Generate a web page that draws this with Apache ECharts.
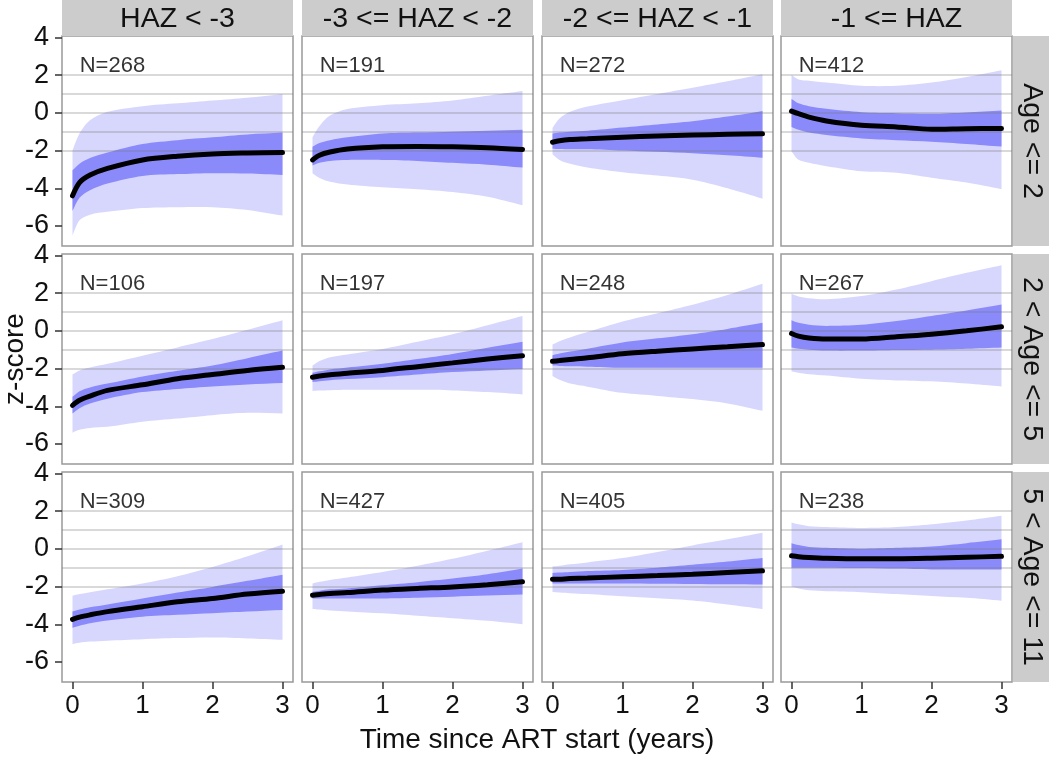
<!DOCTYPE html>
<html><head><meta charset="utf-8">
<script src="https://cdn.jsdelivr.net/npm/echarts@6/dist/echarts.min.js"></script>
<style>html,body{margin:0;padding:0;background:#fff}#c{width:1050px;height:757px}</style>
</head><body><div id="c"></div>
<script>
// ---------------- DATA ----------------
const TIME = [0, 0.1, 0.25, 0.5, 1, 1.5, 2, 2.5, 3];
const COL_LABELS = ['HAZ < -3', '-3 <= HAZ < -2', '-2 <= HAZ < -1', '-1 <= HAZ'];
const ROW_LABELS = ['Age <= 2', '2 < Age <= 5', '5 < Age <= 11'];
const N_LABELS = [
  ['N=268', 'N=191', 'N=272', 'N=412'],
  ['N=106', 'N=197', 'N=248', 'N=267'],
  ['N=309', 'N=427', 'N=405', 'N=238']
];
const Y_TICKS = [-6, -4, -2, 0, 2, 4];
const X_TICKS = [0, 1, 2, 3];
const REF_LINES = [2, 1, 0, -1, -2];
const X_TITLE = 'Time since ART start (years)';
const Y_TITLE = 'z-score';

// Row 1: Age <= 2 (columns HAZ<-3, -3..-2, -2..-1, >=-1)
const MEDIAN_AGE2 = [
  [-4.4, -3.7, -3.3, -2.95, -2.5, -2.3, -2.18, -2.13, -2.1],
  [-2.5, -2.25, -2.08, -1.92, -1.8, -1.78, -1.8, -1.85, -1.95],
  [-1.56, -1.48, -1.42, -1.38, -1.29, -1.23, -1.18, -1.14, -1.11],
  [0.09, -0.05, -0.23, -0.43, -0.66, -0.75, -0.87, -0.84, -0.83]
];
const INNER_LO_AGE2 = [
  [-5.2, -4.5, -4.1, -3.75, -3.35, -3.25, -3.2, -3.22, -3.3],
  [-2.8, -2.65, -2.55, -2.5, -2.5, -2.55, -2.65, -2.75, -2.9],
  [-1.9, -1.92, -1.93, -1.93, -2.0, -2.07, -2.15, -2.25, -2.38],
  [-0.75, -0.9, -1.05, -1.18, -1.36, -1.45, -1.53, -1.65, -1.79]
];
const INNER_HI_AGE2 = [
  [-3.05, -2.7, -2.4, -2.1, -1.65, -1.45, -1.3, -1.15, -1.05],
  [-1.8, -1.6, -1.45, -1.3, -1.1, -1.05, -1.0, -0.95, -0.9],
  [-1.1, -1.05, -1.0, -0.95, -0.78, -0.62, -0.45, -0.2, 0.1],
  [0.73, 0.5, 0.35, 0.21, 0.03, -0.02, -0.05, 0.02, 0.12]
];
const OUTER_LO_AGE2 = [
  [-6.5, -5.7, -5.4, -5.25, -5.05, -5.0, -5.0, -5.15, -5.45],
  [-3.2, -3.45, -3.65, -3.8, -3.95, -4.05, -4.2, -4.45, -4.9],
  [-2.2, -2.5, -2.7, -2.9, -3.15, -3.33, -3.55, -4.0, -4.55],
  [-2.05, -2.49, -2.65, -2.83, -3.1, -3.18, -3.44, -3.7, -4.05]
];
const OUTER_HI_AGE2 = [
  [-2.0, -1.1, -0.4, 0.05, 0.35, 0.5, 0.65, 0.8, 1.0],
  [-1.3, -0.7, -0.15, 0.2, 0.4, 0.5, 0.65, 0.9, 1.15],
  [-0.8, -0.3, 0.05, 0.33, 0.67, 1.0, 1.33, 1.67, 2.04],
  [2.0, 1.77, 1.7, 1.6, 1.43, 1.43, 1.6, 1.9, 2.26]
];

// Row 2: 2 < Age <= 5
const MEDIAN_AGE5 = [
  [-3.95, -3.68, -3.46, -3.16, -2.86, -2.54, -2.32, -2.1, -1.93],
  [-2.46, -2.4, -2.33, -2.25, -2.1, -1.9, -1.7, -1.5, -1.32],
  [-1.62, -1.58, -1.52, -1.43, -1.22, -1.08, -0.96, -0.85, -0.73],
  [-0.14, -0.28, -0.38, -0.44, -0.44, -0.32, -0.18, 0.0, 0.21]
];
const INNER_LO_AGE5 = [
  [-4.39, -4.1, -3.85, -3.6, -3.25, -3.08, -2.95, -2.85, -2.77],
  [-2.72, -2.68, -2.62, -2.56, -2.46, -2.32, -2.19, -2.1, -2.02],
  [-1.84, -1.86, -1.88, -1.9, -1.96, -1.96, -1.96, -1.96, -1.96],
  [-0.88, -0.95, -1.0, -1.05, -1.05, -1.02, -1.0, -0.95, -0.88]
];
const INNER_HI_AGE5 = [
  [-3.5, -3.2, -3.0, -2.8, -2.42, -2.12, -1.84, -1.45, -1.05],
  [-2.23, -2.15, -2.05, -1.95, -1.75, -1.5, -1.23, -0.9, -0.58],
  [-1.29, -1.2, -1.1, -0.95, -0.62, -0.4, -0.18, 0.1, 0.42],
  [0.56, 0.42, 0.32, 0.26, 0.32, 0.52, 0.79, 1.08, 1.4]
];
const OUTER_LO_AGE5 = [
  [-5.4, -5.25, -5.15, -5.09, -4.82, -4.65, -4.47, -4.35, -4.39],
  [-3.19, -3.17, -3.15, -3.13, -3.12, -3.13, -3.16, -3.25, -3.37],
  [-2.4, -2.6, -2.8, -2.96, -3.29, -3.45, -3.62, -3.85, -4.24],
  [-2.14, -2.22, -2.3, -2.37, -2.54, -2.63, -2.68, -2.8, -2.95]
];
const OUTER_HI_AGE5 = [
  [-2.32, -2.1, -1.95, -1.75, -1.32, -0.88, -0.44, 0.05, 0.56],
  [-1.84, -1.6, -1.4, -1.25, -0.96, -0.58, -0.18, 0.3, 0.79],
  [-0.73, -0.55, -0.35, -0.07, 0.49, 0.93, 1.38, 1.9, 2.49],
  [1.96, 1.82, 1.72, 1.67, 1.84, 2.19, 2.63, 3.07, 3.47]
];

// Row 3: 5 < Age <= 11
const MEDIAN_AGE11 = [
  [-3.74, -3.62, -3.5, -3.33, -3.07, -2.81, -2.63, -2.4, -2.25],
  [-2.46, -2.42, -2.37, -2.32, -2.19, -2.1, -2.02, -1.9, -1.75],
  [-1.62, -1.61, -1.58, -1.55, -1.48, -1.42, -1.35, -1.26, -1.17],
  [-0.37, -0.42, -0.46, -0.5, -0.53, -0.53, -0.5, -0.45, -0.4]
];
const INNER_LO_AGE11 = [
  [-4.18, -4.08, -3.95, -3.8, -3.6, -3.5, -3.42, -3.33, -3.25],
  [-2.63, -2.63, -2.63, -2.63, -2.63, -2.59, -2.54, -2.48, -2.42],
  [-1.84, -1.84, -1.84, -1.84, -1.84, -1.85, -1.86, -1.88, -1.89],
  [-1.0, -1.0, -1.0, -1.0, -1.02, -1.05, -1.1, -1.1, -1.1]
];
const INNER_HI_AGE11 = [
  [-3.33, -3.22, -3.1, -2.95, -2.63, -2.32, -2.02, -1.7, -1.37],
  [-2.28, -2.22, -2.15, -2.1, -1.93, -1.77, -1.58, -1.35, -1.05],
  [-1.28, -1.26, -1.23, -1.18, -1.12, -1.0, -0.85, -0.68, -0.49],
  [0.3, 0.2, 0.1, 0.05, 0.0, 0.05, 0.12, 0.3, 0.5]
];
const OUTER_LO_AGE11 = [
  [-5.05, -4.98, -4.92, -4.87, -4.79, -4.73, -4.7, -4.75, -4.82],
  [-3.19, -3.22, -3.27, -3.32, -3.42, -3.55, -3.68, -3.82, -4.0],
  [-2.29, -2.31, -2.35, -2.4, -2.52, -2.62, -2.74, -2.95, -3.19],
  [-2.0, -2.1, -2.2, -2.25, -2.3, -2.4, -2.5, -2.6, -2.75]
];
const OUTER_HI_AGE11 = [
  [-2.49, -2.4, -2.3, -2.15, -1.84, -1.45, -0.96, -0.4, 0.23],
  [-1.84, -1.75, -1.65, -1.52, -1.23, -0.9, -0.53, -0.1, 0.35],
  [-0.94, -0.9, -0.82, -0.72, -0.49, -0.17, 0.18, 0.5, 0.85],
  [1.4, 1.3, 1.2, 1.15, 1.1, 1.15, 1.3, 1.5, 1.75]
];

// ---------------- LAYOUT / STYLE ----------------
const MEDIAN = [MEDIAN_AGE2, MEDIAN_AGE5, MEDIAN_AGE11];
const INNER_LO = [INNER_LO_AGE2, INNER_LO_AGE5, INNER_LO_AGE11];
const INNER_HI = [INNER_HI_AGE2, INNER_HI_AGE5, INNER_HI_AGE11];
const OUTER_LO = [OUTER_LO_AGE2, OUTER_LO_AGE5, OUTER_LO_AGE11];
const OUTER_HI = [OUTER_HI_AGE2, OUTER_HI_AGE5, OUTER_HI_AGE11];

const FONT = 'Liberation Sans, Arial, sans-serif';
const COL_LEFT = [62, 302, 542, 781];
const PANEL_W = 231;
const ROW_TOP = [36, 254, 472];
const PANEL_H = 210;
const STRIP_H = 36;
const STRIP_W = 36;
const LIGHT = '#d7d7fd';
const DARK = '#8a8afb';
const STRIP_FILL = '#cccccc';
const X_MIN = -0.15, X_MAX = 3.15, Y_MIN = -7.06, Y_MAX = 4.07;

const grids = [], xAxes = [], yAxes = [], series = [], graphics = [];

function bandSeries(p, lo, hi, color, z) {
  return {
    type: 'custom', coordinateSystem: 'cartesian2d', xAxisIndex: p, yAxisIndex: p,
    silent: true, animation: false, z: z,
    data: TIME.map((t, i) => [t, lo[i], hi[i]]),
    encode: { x: 0, y: [1, 2] },
    renderItem: function (params, api) {
      if (params.dataIndex !== 0) return;
      const up = TIME.map((t, i) => api.coord([t, hi[i]]));
      const dn = TIME.map((t, i) => api.coord([t, lo[i]])).reverse();
      const pts = [up[0]].concat(up, [up[up.length - 1], dn[0]], dn, [dn[dn.length - 1]]);
      return { type: 'polygon', shape: { points: pts, smooth: 0.3 }, style: { fill: color, stroke: null } };
    }
  };
}

for (let r = 0; r < 3; r++) {
  for (let c = 0; c < 4; c++) {
    const p = r * 4 + c;
    grids.push({
      left: COL_LEFT[c], top: ROW_TOP[r], width: PANEL_W, height: PANEL_H,
      show: true, borderColor: '#999', borderWidth: 1.5, backgroundColor: '#fff'
    });
    xAxes.push({
      gridIndex: p, type: 'value', min: X_MIN, max: X_MAX, position: 'bottom',
      splitLine: { show: false }, axisLine: { show: false, onZero: false },
      axisTick: { show: r === 2, customValues: X_TICKS, length: 7, lineStyle: { color: '#333', width: 1.5 } },
      axisLabel: { show: r === 2, customValues: X_TICKS, fontSize: 26, color: '#111', margin: 11, fontFamily: FONT }
    });
    yAxes.push({
      gridIndex: p, type: 'value', min: Y_MIN, max: Y_MAX, position: 'left',
      splitLine: { show: false }, axisLine: { show: false, onZero: false },
      axisTick: { show: c === 0, customValues: Y_TICKS, length: 7, lineStyle: { color: '#333', width: 1.5 } },
      axisLabel: { show: c === 0, customValues: Y_TICKS, fontSize: 27, color: '#111', margin: 13, fontFamily: FONT }
    });
    const med = MEDIAN[r][c];
    series.push(bandSeries(p, OUTER_LO[r][c], OUTER_HI[r][c], LIGHT, 1));
    series.push(bandSeries(p, INNER_LO[r][c], INNER_HI[r][c], DARK, 2));
    // carrier of horizontal reference lines (invisible line)
    series.push({
      type: 'line', xAxisIndex: p, yAxisIndex: p, symbol: 'none', silent: true, animation: false, z: 3,
      data: TIME.map((t, i) => [t, med[i]]), lineStyle: { opacity: 0 },
      markLine: {
        silent: true, symbol: 'none', animation: false,
        label: { show: false },
        lineStyle: { color: 'rgba(120,120,120,0.38)', width: 1.5, type: 'solid' },
        data: REF_LINES.map(v => ({ yAxis: v }))
      }
    });
    series.push({
      type: 'line', xAxisIndex: p, yAxisIndex: p, symbol: 'none', smooth: 0.3, silent: true, animation: false,
      z: 10, data: TIME.map((t, i) => [t, med[i]]),
      lineStyle: { color: '#000', width: 5, cap: 'round' }
    });
    series.push({
      type: 'scatter', xAxisIndex: p, yAxisIndex: p, silent: true, animation: false, z: 11,
      symbolSize: 1, itemStyle: { color: 'rgba(0,0,0,0)' },
      data: [[0.57, 2.5]],
      label: { show: true, position: 'inside', formatter: N_LABELS[r][c], fontSize: 22, color: '#000', fontFamily: FONT }
    });
  }
}

// column strips
for (let c = 0; c < 4; c++) {
  graphics.push({ type: 'rect', shape: { x: COL_LEFT[c], y: 0, width: PANEL_W, height: STRIP_H }, style: { fill: STRIP_FILL }, silent: true });
  graphics.push({ type: 'text', x: COL_LEFT[c] + PANEL_W / 2, y: STRIP_H / 2 + 1, silent: true,
    style: { text: COL_LABELS[c], fontSize: 28.5, fontFamily: FONT, fill: '#111', textAlign: 'center', textVerticalAlign: 'middle' } });
}
// row strips
for (let r = 0; r < 3; r++) {
  const x0 = COL_LEFT[3] + PANEL_W + 1;
  graphics.push({ type: 'rect', shape: { x: x0, y: ROW_TOP[r], width: STRIP_W, height: PANEL_H }, style: { fill: STRIP_FILL }, silent: true });
  graphics.push({ type: 'text', x: x0 + STRIP_W / 2 + 1, y: ROW_TOP[r] + PANEL_H / 2, rotation: -Math.PI / 2, silent: true,
    style: { text: ROW_LABELS[r], fontSize: 28.5, fontFamily: FONT, fill: '#111', textAlign: 'center', textVerticalAlign: 'middle' } });
}
// axis titles
graphics.push({ type: 'text', x: (COL_LEFT[0] + COL_LEFT[3] + PANEL_W) / 2, y: 740, silent: true,
  style: { text: X_TITLE, fontSize: 28, fontFamily: FONT, fill: '#111', textAlign: 'center', textVerticalAlign: 'middle' } });
graphics.push({ type: 'text', x: 15, y: (ROW_TOP[0] + ROW_TOP[2] + PANEL_H) / 2, rotation: Math.PI / 2, silent: true,
  style: { text: Y_TITLE, fontSize: 28, fontFamily: FONT, fill: '#111', textAlign: 'center', textVerticalAlign: 'middle' } });

const chart = echarts.init(document.getElementById('c'), null, { renderer: 'canvas' });
chart.setOption({
  animation: false,
  backgroundColor: '#fff',
  grid: grids, xAxis: xAxes, yAxis: yAxes, series: series, graphic: graphics
});
</script>
</body></html>
